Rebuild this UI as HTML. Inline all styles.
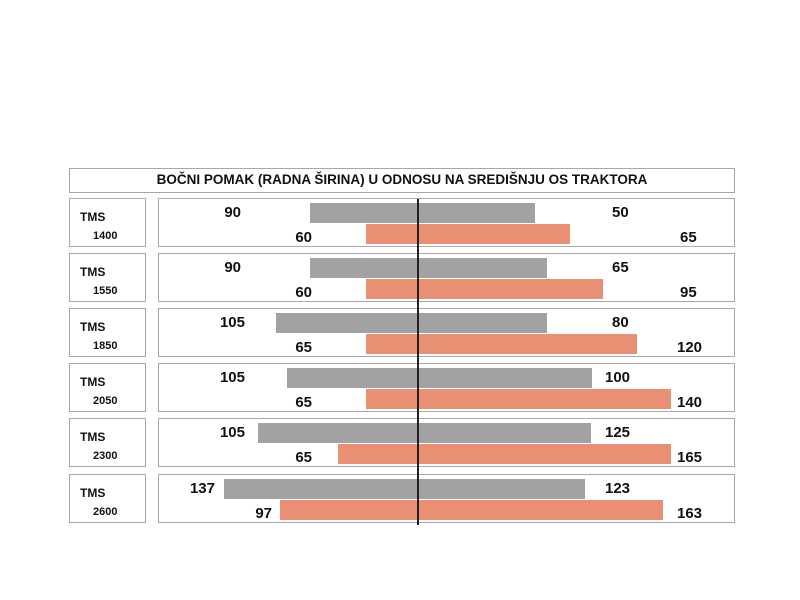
<!DOCTYPE html><html><head><style>
body{margin:0;width:800px;height:600px;background:#fff;position:relative;font-family:"Liberation Sans",sans-serif;font-weight:bold;color:#111}
div{position:absolute;box-sizing:border-box}
.b{border:1.5px solid #a8a8a8;background:#fff}
.g{background:#a2a2a2}.o{background:#e98f73}
.t{font-size:15px;line-height:16px}
.s{font-size:12px}
</style></head><body>
<div class="b" style="left:69px;top:168px;width:666px;height:25px;text-align:center;font-size:13.5px;line-height:22px">BOČNI POMAK (RADNA ŠIRINA) U ODNOSU NA SREDIŠNJU OS TRAKTORA</div>
<div id="c"></div>
<script>
var d=[[1400,90,60,50,65,310,366,535,570,241,312],[1550,90,60,65,95,310,366,547,603,241,312],[1850,105,65,80,120,276,366,547,637,245,312],[2050,105,65,100,140,287,366,592,671,245,312],[2300,105,65,125,165,258,338,591,671,245,312],[2600,137,97,123,163,224,280,585,663,215,272]];
var tops=[198,253,308,363,418,474],h='';
d.forEach(function(r,i){var y=tops[i];
h+='<div class="b" style="left:69px;top:'+y+'px;width:77px;height:49px"></div>';
h+='<div class="s" style="left:80px;top:'+(y+12)+'px">TMS</div><div class="s" style="left:93px;top:'+(y+32)+'px;font-size:11px">'+r[0]+'</div>';
h+='<div class="b" style="left:158px;top:'+y+'px;width:577px;height:49px"></div>';
h+='<div class="g" style="left:'+r[5]+'px;top:'+(y+5)+'px;width:'+(418-r[5])+'px;height:20px"></div>';
h+='<div class="o" style="left:'+r[6]+'px;top:'+(y+26)+'px;width:'+(418-r[6])+'px;height:20px"></div>';
h+='<div class="g" style="left:418px;top:'+(y+5)+'px;width:'+(r[7]-418)+'px;height:20px"></div>';
h+='<div class="o" style="left:418px;top:'+(y+26)+'px;width:'+(r[8]-418)+'px;height:20px"></div>';
h+='<div class="t" style="right:'+(800-r[9])+'px;top:'+(y+7)+'px">'+r[1]+'</div>';
h+='<div class="t" style="right:'+(800-r[10])+'px;top:'+(y+32)+'px">'+r[2]+'</div>';
h+='<div class="t" style="left:'+(r[3]>99?605:612)+'px;top:'+(y+7)+'px">'+r[3]+'</div>';
h+='<div class="t" style="left:'+(r[4]>99?677:680)+'px;top:'+(y+32)+'px">'+r[4]+'</div>';
});
h+='<div style="left:417px;top:199px;width:1.5px;height:326px;background:#222"></div>';
document.getElementById('c').outerHTML=h;
</script>
</body></html>
